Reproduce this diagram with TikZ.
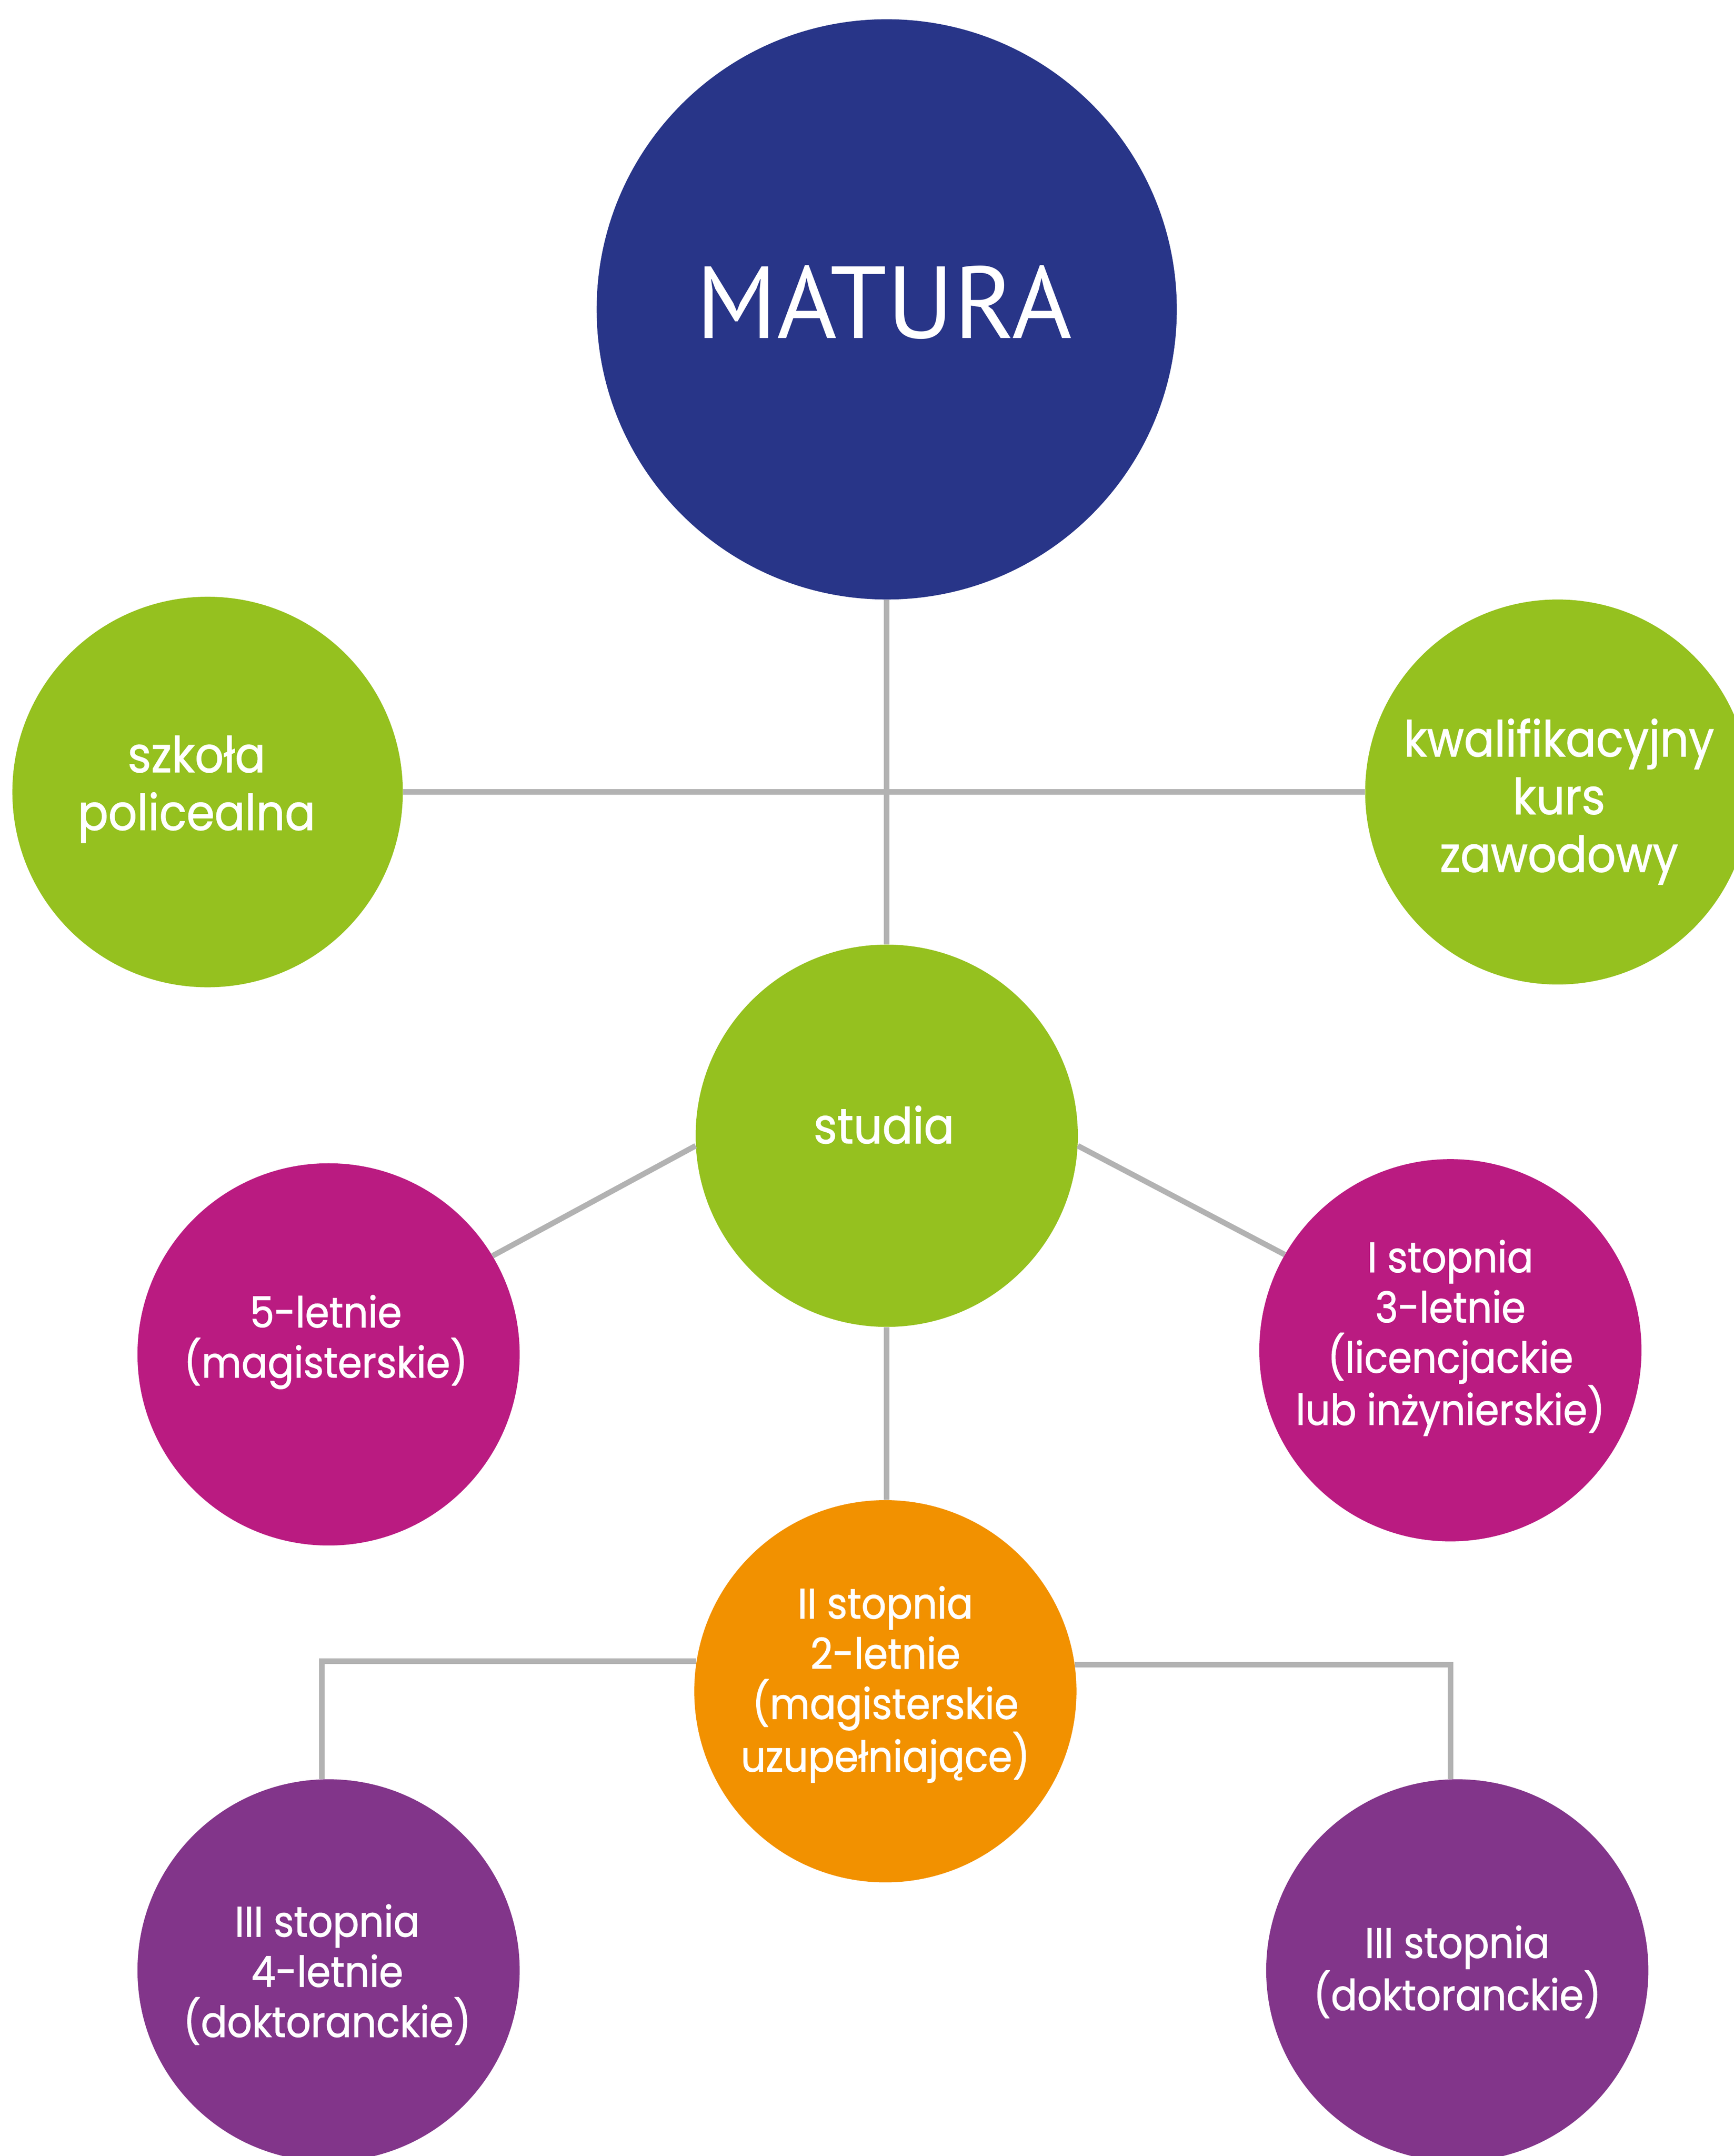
\documentclass[tikz,border=0pt]{standalone}
\usepackage{fontspec}
\setmainfont{Poppins}[FakeStretch=0.91, FakeBold=1.2]
\newfontfamily\titlefont{PT Sans}
\definecolor{navy}{HTML}{283588}
\definecolor{lime}{HTML}{95C11F}
\definecolor{magentaX}{HTML}{BA1B81}
\definecolor{orangeX}{HTML}{F29100}
\definecolor{purpleX}{HTML}{82358A}
\definecolor{conn}{HTML}{B2B2B2}
\tikzset{
  disc/.style={circle, inner sep=0pt, draw=none, minimum size=#1},
  disc/.default=278pt,
  lbl/.style={text=white, align=center, inner sep=0pt, font=\fontsize{31}{36.5}\selectfont},
  glbl/.style={text=white, align=center, inner sep=0pt, font=\fontsize{36}{42}\selectfont},
  link/.style={draw=conn, line width=4pt, line join=miter},
}
\begin{document}
\begin{tikzpicture}[x=1pt,y=-1pt]
\useasboundingbox (0,0) rectangle (1261,1568);
% circles
\node[disc=422pt, fill=navy] (matura) at (645,225) {};
\node[disc=284pt, fill=lime] (szkola) at (151,576) {};
\node[disc=280pt, fill=lime] (kurs) at (1133,576) {};
\node[disc, fill=lime] (studia) at (645,826) {};
\node[disc, fill=magentaX] (piec) at (239,985) {};
\node[disc, fill=magentaX] (first) at (1055,982) {};
\node[disc, fill=orangeX] (second) at (644,1230) {};
\node[disc, fill=purpleX] (thirdA) at (239,1433) {};
\node[disc, fill=purpleX] (thirdB) at (1060,1433) {};
% connectors
\draw[link] (matura.south) -- (studia.north);
\draw[link] (szkola.east) -- (kurs.west);
\draw[link] (studia.183) -- (piec.31.5);
\draw[link] (studia.357) -- (first.150);
\draw[link] (studia.south) -- (studia.south |- second.north);
\draw[link] (second.171.7) -| (thirdA.92.9);
\draw[link] (second.8.3) -| (thirdB.92.1);
% labels
\node[text=white, inner sep=0pt, font=\titlefont\fontsize{74.5}{76}\selectfont] (tmatura) at (643,220) {MATURA};
\node[glbl] (tszkola) at (143,574) {szkoła\\policealna};
\node[glbl] (tkurs) at (1134,583) {kwalifikacyjny\\kurs\\zawodowy};
\node[glbl] (tstudia) at (643,818) {studia};
\node[lbl] (tpiec) at (237,976) {5-letnie\\(magisterskie)};
\node[lbl] (tfirst) at (1055,973) {I stopnia\\3-letnie\\(licencjackie\\lub inżynierskie)};
\node[lbl] (tsecond) at (644,1225) {II stopnia\\2-letnie\\(magisterskie\\uzupełniające)};
\node[lbl] (tthirdA) at (238,1436) {III stopnia\\4-letnie\\(doktoranckie)};
\node[lbl] (tthirdB) at (1060,1434) {III stopnia\\(doktoranckie)};
\end{tikzpicture}
\end{document}
